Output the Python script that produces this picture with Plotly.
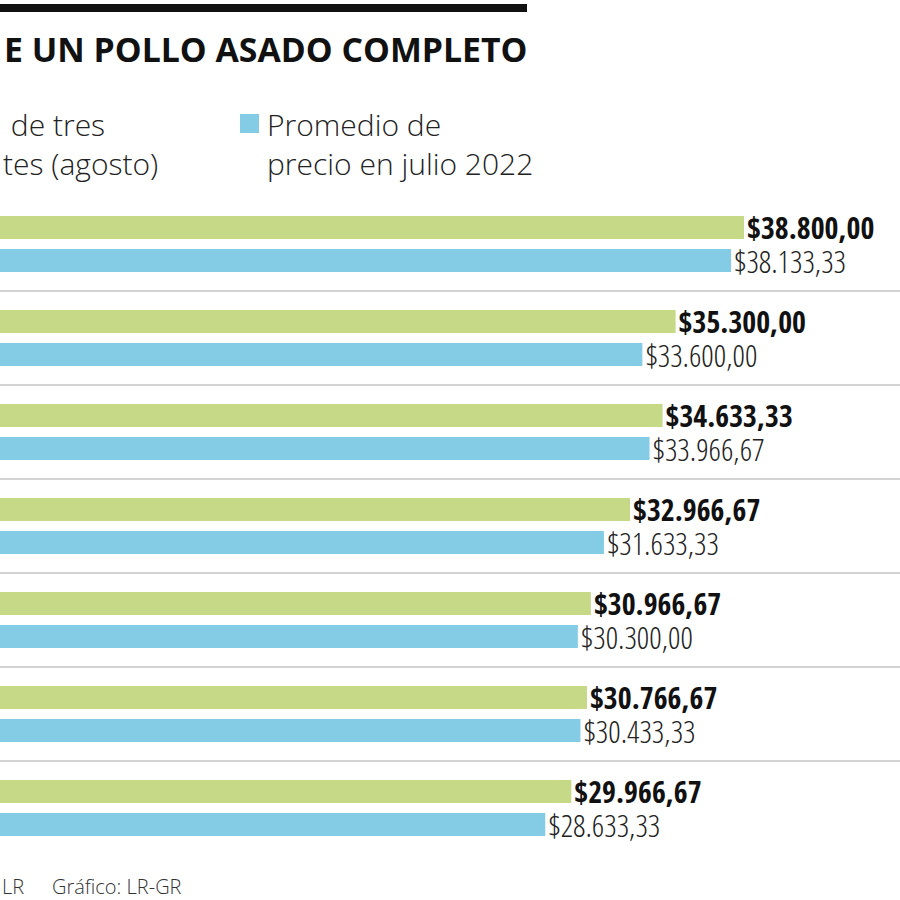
import plotly.graph_objects as go

# ---- data ----
categories = ["C1", "C2", "C3", "C4", "C5", "C6", "C7"]
agosto_vals = [38800.00, 35300.00, 34633.33, 32966.67, 30966.67, 30766.67, 29966.67]
julio_vals = [38133.33, 33600.00, 33966.67, 31633.33, 30300.00, 30433.33, 28633.33]
series_names = ["Promedio de tres restaurantes (agosto)", "Promedio de precio en julio 2022"]
title_text = "E UN POLLO ASADO COMPLETO"
legend_left = ["\u00a0de tres", "tes (agosto)"]
legend_right = ["Promedio de", "precio en julio 2022"]
source_a = "LR"
source_b = "Gráfico: LR-GR"

GREEN = "#c5d987"
BLUE = "#84cce5"
W, H = 900, 900
T, B = 197, 45
PH = H - T - B


def px(x):
    return x / W


def py(y):
    return (H - B - y) / PH


BOLD_FONT = "Open Sans Condensed, Noto Sans Condensed, Roboto Condensed, DejaVu Sans Condensed, sans-serif"
LIGHT_FONT = ("Open Sans Condensed Light, Noto Sans Condensed Light, Roboto Condensed Light, "
              "Noto Sans Condensed, DejaVu Sans Condensed, sans-serif")
LEG_FONT = "Open Sans, Lato, sans-serif"

fig = go.Figure()
fig.add_trace(go.Bar(
    y=categories, x=agosto_vals, orientation="h", name=series_names[0],
    marker=dict(color=GREEN, line=dict(width=0)),
    texttemplate="$%{x:,.2f}", textposition="outside", cliponaxis=False,
    constraintext="none",
    textfont=dict(family=BOLD_FONT, size=30, color="#111111", weight=700),
))
fig.add_trace(go.Bar(
    y=categories, x=julio_vals, orientation="h", name=series_names[1],
    marker=dict(color=BLUE, line=dict(width=0)),
    texttemplate="$%{x:,.2f}", textposition="outside", cliponaxis=False,
    constraintext="none",
    textfont=dict(family=LIGHT_FONT, size=31, color="#222222", weight=300),
))

shapes = []
for k in range(len(categories) - 1):
    shapes.append(dict(type="line", xref="paper", yref="y", x0=0, x1=1,
                       y0=k + 0.5, y1=k + 0.5,
                       line=dict(color="#c4c4c4", width=1.5), layer="below"))
# top rule
shapes.append(dict(type="rect", xref="paper", yref="paper",
                   x0=px(0), x1=px(527), y0=py(12), y1=py(4),
                   fillcolor="#111111", line=dict(width=0)))
# legend square
shapes.append(dict(type="rect", xref="paper", yref="paper",
                   x0=px(240), x1=px(259), y0=py(133), y1=py(114),
                   fillcolor=BLUE, line=dict(width=0)))


def ann(text, x, y, size, weight=400, color="#222222", family=LEG_FONT):
    return dict(text=text, x=px(x), y=py(y), xref="paper", yref="paper",
                xanchor="left", yanchor="middle", align="left", showarrow=False,
                font=dict(family=family, size=size, color=color, weight=weight))


annotations = [
    dict(text=f"<b>{title_text}</b>", x=px(529), y=py(49), xref="paper", yref="paper",
         xanchor="right", yanchor="middle", showarrow=False,
         font=dict(family="Open Sans, Noto Sans, sans-serif", size=33.8, color="#111111")),
    ann("<br>".join(legend_left), 1, 143.5, 30, 300),
    ann("<br>".join(legend_right), 265, 143.5, 30, 300),
    ann(source_a, 0, 886, 20, 300, "#333333"),
    ann(source_b, 50, 886, 20, 300, "#333333"),
]

fig.update_layout(
    width=W, height=H,
    margin=dict(l=0, r=0, t=T, b=B, pad=0),
    paper_bgcolor="white", plot_bgcolor="white",
    barmode="group", bargap=0.298, bargroupgap=0.303,
    separators=",.",
    showlegend=False,
    shapes=shapes, annotations=annotations,
    xaxis=dict(range=[742, 46778], visible=False, fixedrange=True),
    yaxis=dict(range=[len(categories) - 0.5, -0.5], visible=False, fixedrange=True),
)

fig.write_html("out.html", config={"displayModeBar": False},
               post_script="document.body.style.margin='0';")
